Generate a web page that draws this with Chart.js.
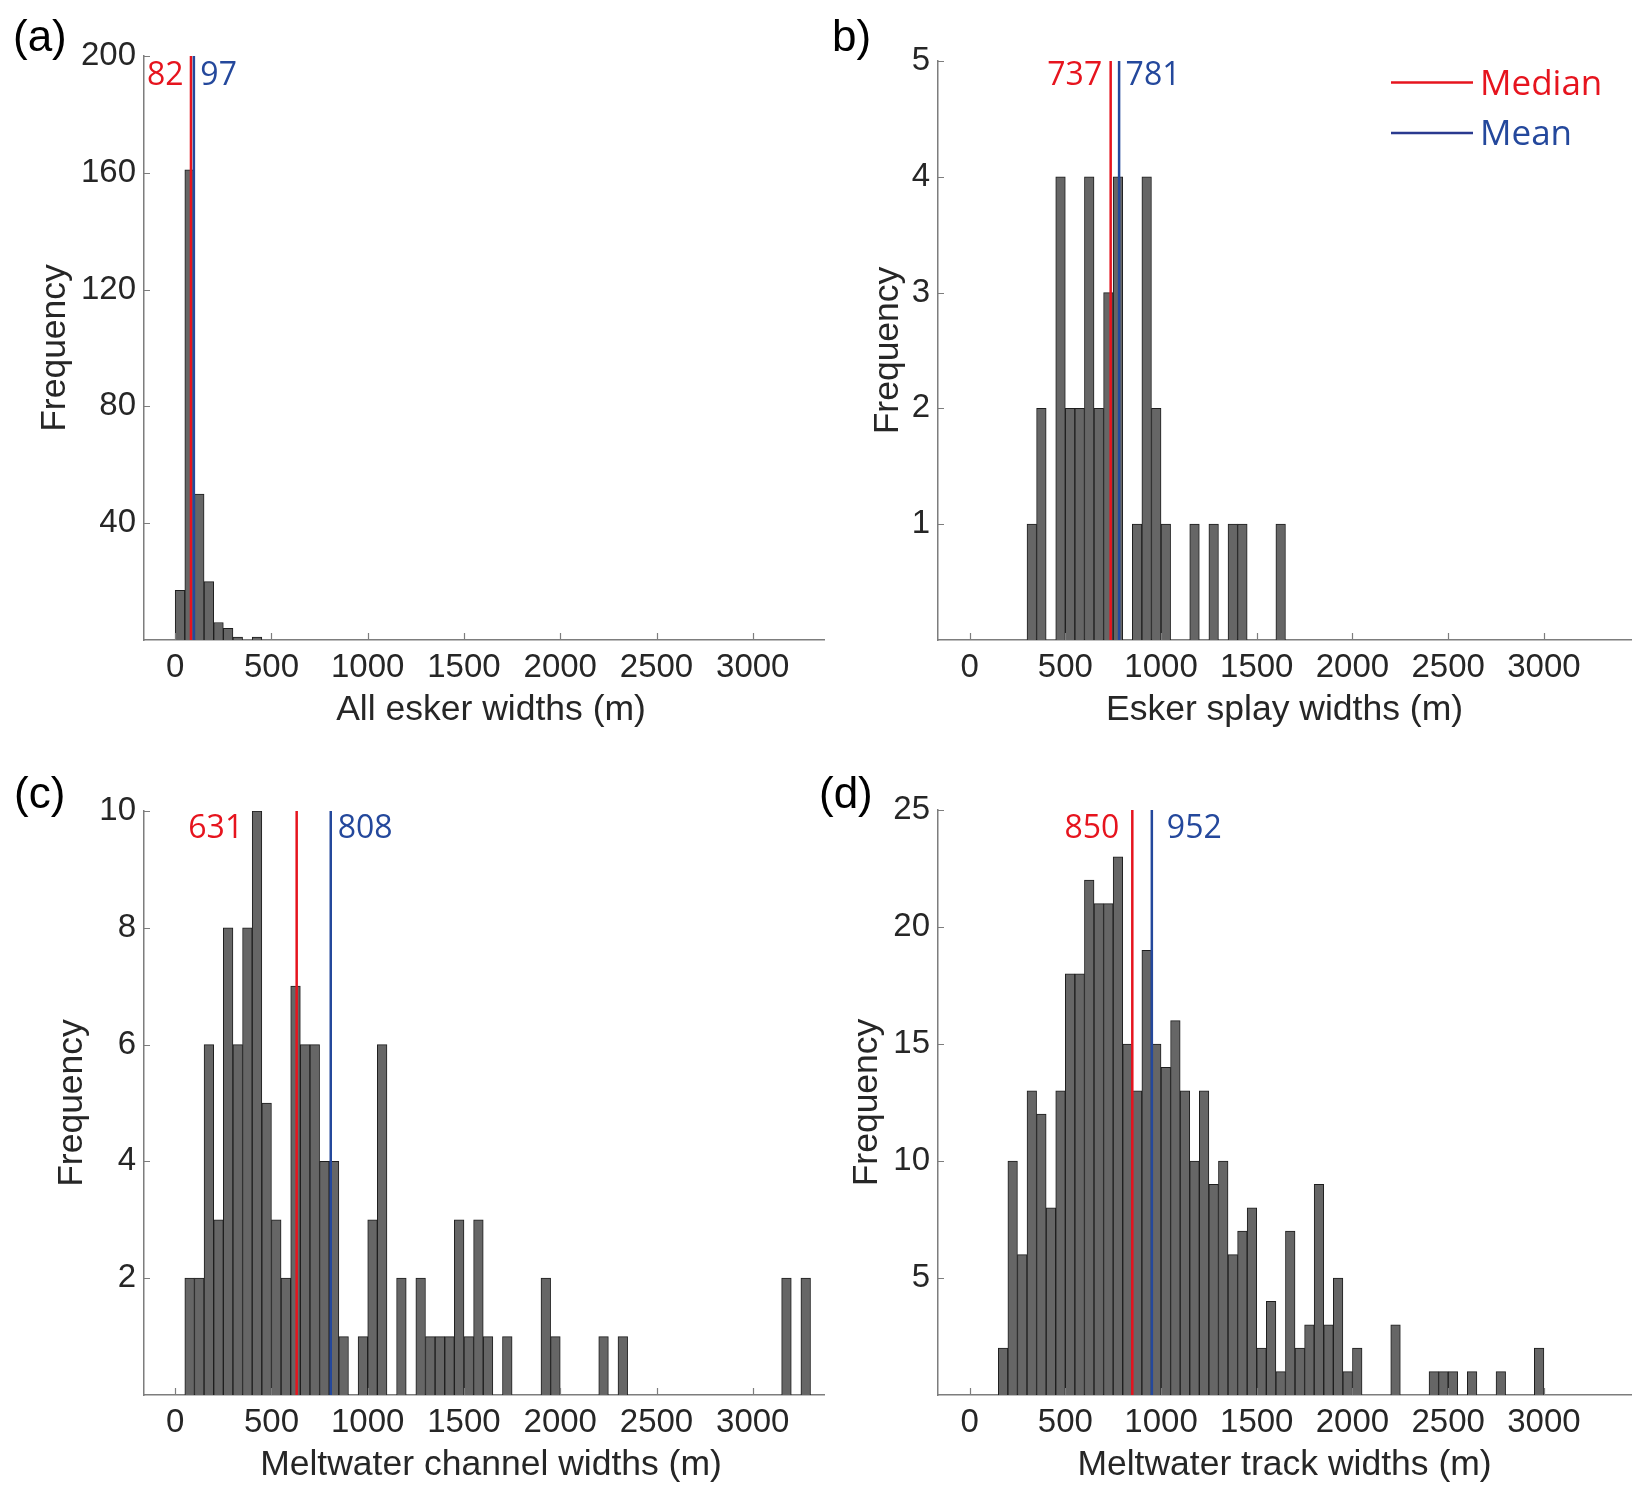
<!DOCTYPE html>
<html>
<head>
<meta charset="utf-8">
<script src="https://cdn.jsdelivr.net/npm/chart.js@4.4.0/dist/chart.umd.min.js"></script>
<style>
  html, body { margin: 0; padding: 0; background: #fff; }
  body { width: 1652px; height: 1500px; position: relative; overflow: hidden; }
  canvas { position: absolute; }
</style>
</head>
<body>
<canvas id="chartA" width="826" height="750" style="left:0;top:0"></canvas>
<canvas id="chartB" width="852" height="750" style="left:800px;top:0"></canvas>
<canvas id="chartC" width="826" height="750" style="left:0;top:750px"></canvas>
<canvas id="chartD" width="852" height="750" style="left:800px;top:750px"></canvas>
<script>
// histogram bins, 50 m wide
const binWidth = 50;
const xTicks = [0, 500, 1000, 1500, 2000, 2500, 3000];

// (a) all esker widths, bins from 0 m
const eskerStart = 0;
const eskerCounts = [17, 161, 50, 20, 6, 4, 1, 0, 1];

// (b) esker splay widths, bins from 300 m
const splayStart = 300;
const splayCounts = [1, 2, 0, 4, 2, 2, 4, 2, 3, 4, 0, 1, 4, 2, 1, 0, 0, 1, 0, 1, 0, 1, 1, 0, 0, 0, 1];

// (c) meltwater channel widths, bins from 50 m
const channelStart = 50;
const channelCounts = [2, 2, 6, 3, 8, 6, 8, 10, 5, 3, 2, 7, 6, 6, 4, 4, 1,
  0, 1, 3, 6, 0, 2, 0, 2, 1, 1, 1, 3, 1, 3, 1, 0, 1,
  0, 0, 0, 2, 1, 0, 0, 0, 0, 1, 0, 1,
  0, 0, 0, 0, 0, 0, 0, 0, 0, 0, 0, 0, 0, 0, 0, 0,
  2, 0, 2];

// (d) meltwater track widths, bins from 150 m
const trackStart = 150;
const trackCounts = [2, 10, 6, 13, 12, 8, 13, 18, 18, 22,
  21, 21, 23, 15, 13, 19, 15, 14, 16, 13,
  10, 13, 9, 10, 6, 7, 8, 2, 4, 1,
  7, 2, 3, 9, 3, 5, 1, 2,
  0, 0, 0, 3, 0, 0, 0, 1, 1, 1, 0, 1, 0, 0, 1, 0, 0, 0, 2];

const medians = [82, 737, 631, 850];
const means = [97, 781, 808, 952];
const yTicksA = [40, 80, 120, 160, 200];
const yTicksB = [1, 2, 3, 4, 5];
const yTicksC = [2, 4, 6, 8, 10];
const yTicksD = [5, 10, 15, 20, 25];
const xTitles = ['All esker widths (m)', 'Esker splay widths (m)', 'Meltwater channel widths (m)', 'Meltwater track widths (m)'];
const letters = ['(a)', 'b)', '(c)', '(d)'];

const RED = '#e6141e';
const BLUE = '#24489c';
const AXIS = '#7d7d7d';
const TEXT = '#262626';
const SANS = '"Liberation Sans", Arial, sans-serif';
const OPEN = '"Open Sans", "Noto Sans", sans-serif';

function makeBins(start, counts) {
  return counts.map((c, i) => ({ x: start + binWidth * (i + 0.5), y: c }));
}

// ticks inside the axes, titles, labels and the legend
const deco = {
  id: 'deco',
  afterDraw(chart, args, o) {
    const ctx = chart.ctx;
    const { left, right, top, bottom } = chart.chartArea;
    const xs = chart.scales.x, ys = chart.scales.y;
    ctx.save();
    ctx.strokeStyle = AXIS;
    ctx.lineWidth = 1.2;
    ctx.beginPath();
    xs.ticks.forEach(t => {
      const px = Math.round(xs.getPixelForValue(t.value)) + 0.5;
      ctx.moveTo(px, bottom);
      ctx.lineTo(px, bottom - 7);
    });
    ys.ticks.forEach(t => {
      const py = Math.round(ys.getPixelForValue(t.value)) + 0.5;
      ctx.moveTo(left, py);
      ctx.lineTo(left + 6, py);
    });
    ctx.stroke();

    // panel letter
    ctx.fillStyle = '#000';
    ctx.font = '44px ' + SANS;
    ctx.textAlign = 'left';
    ctx.textBaseline = 'alphabetic';
    ctx.fillText(o.letter, o.letterX, o.letterY);

    // axis titles
    ctx.fillStyle = TEXT;
    ctx.font = '35.5px ' + SANS;
    ctx.textAlign = 'center';
    ctx.fillText(o.xTitle, (left + right) / 2 + o.xTitleOff, bottom + 80);
    ctx.save();
    ctx.translate(o.yTitleX, (top + bottom) / 2);
    ctx.rotate(-Math.PI / 2);
    ctx.fillText('Frequency', 0, 0);
    ctx.restore();

    // median / mean values
    ctx.font = '32px ' + OPEN;
    ctx.fillStyle = RED;
    ctx.textAlign = 'right';
    ctx.fillText(String(o.median), xs.getPixelForValue(o.median) + o.medOff, o.labelY);
    ctx.fillStyle = BLUE;
    ctx.textAlign = 'left';
    ctx.fillText(String(o.mean), xs.getPixelForValue(o.mean) + o.meanOff, o.labelY);

    if (o.legend) {
      const L = o.legend;
      ctx.lineWidth = 2.5;
      ctx.strokeStyle = RED;
      ctx.beginPath();
      ctx.moveTo(L.x0, L.y1); ctx.lineTo(L.x1, L.y1);
      ctx.stroke();
      ctx.strokeStyle = '#2a3a8f';
      ctx.beginPath();
      ctx.moveTo(L.x0, L.y2); ctx.lineTo(L.x1, L.y2);
      ctx.stroke();
      ctx.font = '35px ' + OPEN;
      ctx.fillStyle = RED;
      ctx.fillText('Median', L.tx, L.b1);
      ctx.fillStyle = BLUE;
      ctx.fillText('Mean', L.tx, L.b2);
    }
    ctx.restore();
  }
};

function buildPanel(id, p) {
  new Chart(document.getElementById(id), {
    type: 'bar',
    data: {
      datasets: [
        {
          type: 'bar', data: makeBins(p.start, p.counts),
          backgroundColor: '#666666', borderColor: '#1e1e1e', borderWidth: 1,
          barPercentage: 1, categoryPercentage: 1, grouped: false, order: 3
        },
        {
          type: 'line', data: [{ x: p.median, y: 0 }, { x: p.median, y: p.yMax }],
          borderColor: RED, borderWidth: 2.5, pointRadius: 0, order: 2
        },
        {
          type: 'line', data: [{ x: p.mean, y: 0 }, { x: p.mean, y: p.yMax }],
          borderColor: BLUE, borderWidth: 2.5, pointRadius: 0, order: 1
        }
      ]
    },
    options: {
      responsive: false,
      animation: false,
      events: [],
      layout: { padding: { left: 0, top: p.top, right: p.right, bottom: 0 } },
      scales: {
        x: {
          type: 'linear', min: p.xMin, max: p.xMax, offset: false,
          afterBuildTicks: s => { s.ticks = xTicks.map(v => ({ value: v })); },
          afterFit: s => { s.height = p.xHeight; },
          grid: { drawOnChartArea: false, drawTicks: false, offset: false },
          border: { color: AXIS, width: 1.5 },
          ticks: {
            font: { family: SANS, size: 33 }, color: TEXT, padding: 8,
            maxRotation: 0, autoSkip: false, callback: v => String(v)
          }
        },
        y: {
          type: 'linear', min: 0, max: p.yMax,
          afterBuildTicks: s => { s.ticks = p.yTicks.map(v => ({ value: v })); },
          afterFit: s => { s.width = p.yWidth; },
          grid: { drawOnChartArea: false, drawTicks: false },
          border: { color: AXIS, width: 1.5 },
          ticks: { font: { family: SANS, size: 33 }, color: TEXT, padding: 8, callback: v => String(v) }
        }
      },
      plugins: {
        legend: { display: false },
        tooltip: { enabled: false },
        deco: {
          letter: p.letter, letterX: p.letterX, letterY: p.letterY,
          xTitle: p.xTitle, xTitleOff: p.xTitleOff, yTitleX: p.yTitleX,
          median: p.median, mean: p.mean, medOff: p.medOff, meanOff: p.meanOff,
          labelY: p.labelY, legend: p.legend || null
        }
      }
    },
    plugins: [deco]
  });
}

buildPanel('chartA', {
  start: eskerStart, counts: eskerCounts, yMax: 200, yTicks: yTicksA,
  xMin: -162, xMax: 3370, top: 56, right: 2, xHeight: 110, yWidth: 144,
  letter: letters[0], letterX: 13, letterY: 51, xTitle: xTitles[0], xTitleOff: 7, yTitleX: 65,
  median: medians[0], mean: means[0], medOff: -7.5, meanOff: 6.5, labelY: 85
});

buildPanel('chartB', {
  start: splayStart, counts: splayCounts, yMax: 5, yTicks: yTicksB,
  xMin: -165, xMax: 3455, top: 61, right: 21, xHeight: 110, yWidth: 138,
  letter: letters[1], letterX: 32, letterY: 51, xTitle: xTitles[1], xTitleOff: 0, yTitleX: 98,
  median: medians[1], mean: means[1], medOff: -8.5, meanOff: 6.5, labelY: 85,
  legend: { x0: 591, x1: 673, y1: 82.5, y2: 133, tx: 680, b1: 95, b2: 145 }
});

buildPanel('chartC', {
  start: channelStart, counts: channelCounts, yMax: 10, yTicks: yTicksC,
  xMin: -162, xMax: 3370, top: 61, right: 2, xHeight: 105, yWidth: 144,
  letter: letters[2], letterX: 14, letterY: 58, xTitle: xTitles[2], xTitleOff: 7, yTitleX: 82,
  median: medians[2], mean: means[2], medOff: -53.5, meanOff: 7, labelY: 88
});

buildPanel('chartD', {
  start: trackStart, counts: trackCounts, yMax: 25, yTicks: yTicksD,
  xMin: -165, xMax: 3455, top: 60, right: 21, xHeight: 105, yWidth: 138,
  letter: letters[3], letterX: 19, letterY: 58, xTitle: xTitles[3], xTitleOff: 0, yTitleX: 77,
  median: medians[3], mean: means[3], medOff: -13, meanOff: 15, labelY: 88
});
</script>
</body>
</html>
